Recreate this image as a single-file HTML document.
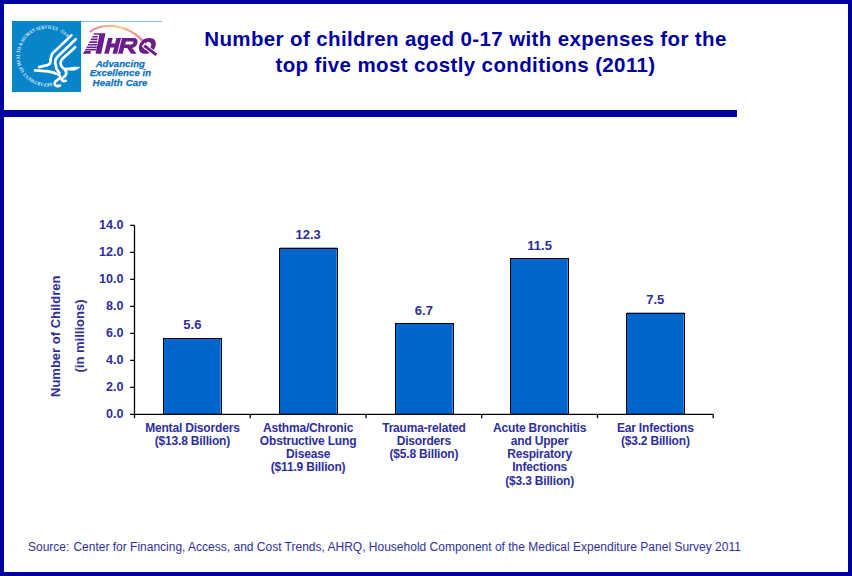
<!DOCTYPE html>
<html>
<head>
<meta charset="utf-8">
<style>
html,body{margin:0;padding:0;}
body{width:852px;height:576px;position:relative;overflow:hidden;background:#fff;font-family:"Liberation Sans",sans-serif;}
.frame{position:absolute;left:0;top:0;width:844px;height:568px;border:4px solid #0000A0;}
.bar{position:absolute;left:4px;top:110px;width:733px;height:7px;background:#0000A0;}
.title{position:absolute;left:165.5px;width:600px;top:26px;text-align:center;font-weight:bold;font-size:20.5px;letter-spacing:0.38px;line-height:26px;color:#0000A0;}
.src{position:absolute;left:28px;top:540px;font-size:12px;color:#30309C;white-space:pre;}
svg{position:absolute;left:0;top:0;}
</style>
</head>
<body>
<div class="frame"></div>
<div class="bar"></div>
<div class="title">Number of children aged 0-17 with expenses for the<br>top five most costly conditions (2011)</div>

<!-- logo -->
<svg width="852" height="576" viewBox="0 0 852 576">
  <defs>
    <linearGradient id="arc" gradientUnits="userSpaceOnUse" x1="89" y1="0" x2="147" y2="0">
      <stop offset="0" stop-color="#F07AB0"/>
      <stop offset="0.5" stop-color="#F8CC88"/>
      <stop offset="1" stop-color="#EE6E9A"/>
    </linearGradient>
  </defs>
  <rect x="12" y="21" width="69" height="71" fill="#0784CA"/>
  <rect x="81" y="21" width="81" height="1" fill="#7DBDE6"/>
  <g font-family="Liberation Serif" font-weight="bold" font-size="5.1" fill="#fff" fill-opacity="0.9" text-anchor="middle"><text transform="translate(50.57 82.85) rotate(172.2) scale(0.837 1)">D</text><text transform="translate(47.62 83.09) rotate(178.5) scale(0.837 1)">E</text><text transform="translate(44.89 83.03) rotate(184.2) scale(0.837 1)">P</text><text transform="translate(42.07 82.67) rotate(190.2) scale(0.837 1)">A</text><text transform="translate(39.08 81.95) rotate(196.7) scale(0.837 1)">R</text><text transform="translate(36.29 80.94) rotate(203.0) scale(0.837 1)">T</text><text transform="translate(33.22 79.41) rotate(210.2) scale(0.837 1)">M</text><text transform="translate(30.36 77.50) rotate(217.4) scale(0.837 1)">E</text><text transform="translate(28.11 75.57) rotate(223.7) scale(0.837 1)">N</text><text transform="translate(26.08 73.41) rotate(229.9) scale(0.837 1)">T</text><text transform="translate(23.67 70.04) rotate(238.7) scale(0.837 1)">O</text><text transform="translate(22.27 67.43) rotate(244.9) scale(0.837 1)">F</text><text transform="translate(20.83 63.67) rotate(253.4) scale(0.837 1)">H</text><text transform="translate(20.12 60.67) rotate(259.9) scale(0.837 1)">E</text><text transform="translate(19.76 57.73) rotate(266.1) scale(0.837 1)">A</text><text transform="translate(19.72 54.77) rotate(272.4) scale(0.837 1)">L</text><text transform="translate(19.99 51.93) rotate(278.4) scale(0.837 1)">T</text><text transform="translate(20.61 48.92) rotate(284.9) scale(0.837 1)">H</text><text transform="translate(22.12 44.68) rotate(294.4) scale(0.837 1)">&amp;</text><text transform="translate(24.31 40.75) rotate(303.9) scale(0.837 1)">H</text><text transform="translate(26.25 38.20) rotate(310.6) scale(0.837 1)">U</text><text transform="translate(28.73 35.66) rotate(318.1) scale(0.837 1)">M</text><text transform="translate(31.52 33.46) rotate(325.6) scale(0.837 1)">A</text><text transform="translate(34.16 31.87) rotate(332.1) scale(0.837 1)">N</text><text transform="translate(37.62 30.33) rotate(340.1) scale(0.837 1)">S</text><text transform="translate(40.11 29.56) rotate(345.6) scale(0.837 1)">E</text><text transform="translate(43.02 28.98) rotate(351.8) scale(0.837 1)">R</text><text transform="translate(46.09 28.71) rotate(358.3) scale(0.837 1)">V</text><text transform="translate(48.46 28.74) rotate(363.3) scale(0.837 1)">I</text><text transform="translate(50.82 28.98) rotate(368.3) scale(0.837 1)">C</text><text transform="translate(53.72 29.57) rotate(374.5) scale(0.837 1)">E</text><text transform="translate(56.21 30.34) rotate(380.0) scale(0.837 1)">S</text><text transform="translate(58.94 31.51) rotate(386.3) scale(0.837 1)">·</text><text transform="translate(61.82 33.16) rotate(393.3) scale(0.837 1)">U</text><text transform="translate(64.02 34.76) rotate(399.0) scale(0.837 1)">S</text><text transform="translate(66.05 36.58) rotate(404.8) scale(0.837 1)">A</text></g>
  <g fill="none" stroke="#fff" stroke-width="2.7" stroke-linecap="round" stroke-linejoin="round">
    <path d="M71.4 35.4C64 42.5 56 50 52.9 52.9C50.6 55.6 50.7 59 50.4 62.2C50.2 63.8 49.6 64.8 46.6 65.4C43.5 66 41 66.5 39.2 67.1"/>
    <path d="M75.7 39.3C69 46 61 53 57.8 56.3C55.3 59 54.8 62 55.6 64.5C56.4 66.5 55.8 67.5 56.6 69C57.3 70.5 58.5 71.5 59.6 73"/>
    <path d="M35 70.4C40 70.7 44 71 48 71.4C52 72 55.5 73 58.4 74.6C60.5 75.6 60.8 77 59.6 78.2C58.3 79.5 56.2 80.5 55 82.2C54 83.8 55 85.8 57.2 86.1C58.3 86.2 59.2 85.9 60 85.5"/>
    <path d="M75.1 47.2C70 52 65 56.5 62.4 58.8C60.6 60.8 60.2 63.5 61.2 65.8C62 67.5 63.8 68.5 65.2 70C66.5 71.5 66.6 74 65.2 75.8C64 77.3 62 78 61.8 79.6C61.8 81 63.5 81.3 65.8 80.8"/>
  </g>
  <path d="M62.4 68.2C66 67.6 70 67 73 66.9C76 66.8 78.5 66.9 80.2 67.2C78.8 68.6 76.5 70.1 74.3 70.5C71.5 70.7 68 70 64.5 70.4Z" fill="#fff"/>
  <path d="M89.5 32C100 24 125 20 146.5 44.5" fill="none" stroke="url(#arc)" stroke-width="2.2"/>
  <g fill="#6C1D8C"><polygon points="94.20,33.3 105.5,33.3 101.2,53.7 95.5,53.7 99.48,34.8 93.38,34.8"/><polygon points="92.77,35.90 97.90,35.90 97.74,37.60 91.83,37.60"/><polygon points="91.28,38.60 97.64,38.60 97.48,40.30 90.35,40.30"/><polygon points="89.80,41.30 97.39,41.30 97.23,43.00 88.86,43.00"/><polygon points="88.37,43.90 97.14,43.90 96.98,45.60 87.44,45.60"/><polygon points="86.94,46.50 96.90,46.50 96.66,48.20 86.00,48.20"/><polygon points="85.56,49.00 96.49,49.00 96.17,50.50 84.74,50.50"/><polygon points="84.41,51.1 90.9,51.1 90.5,53.7 82.98,53.7"/></g>
  <g fill="#6C1D8C" transform="matrix(1,0,-0.25,1,13.425,0)">
    <rect x="104.2" y="38.1" width="4.6" height="15.6"/>
    <rect x="112.5" y="38.1" width="4.6" height="15.6"/>
    <rect x="108" y="43.6" width="5" height="3.8"/>
    <rect x="118.1" y="38.1" width="4.6" height="15.6"/>
    <path fill-rule="evenodd" d="M122 38.1H129.6C133 38.1 134.7 40.3 134.7 42.9C134.7 45.6 133 47.9 129.6 47.9H122Z M122.6 41.5H128.7C130 41.5 130.6 42.1 130.6 42.95C130.6 43.8 130 44.4 128.7 44.4H122.6Z"/>
    <polygon points="125.1,47.3 129.9,47.3 136.6,53.7 131.1,53.7"/>
    <path fill-rule="evenodd" d="M145.4 38.1C150.8 38.1 153.6 41.6 153.6 45.9C153.6 50.2 150.8 53.7 145.4 53.7C140 53.7 137.2 50.2 137.2 45.9C137.2 41.6 140 38.1 145.4 38.1Z M145.4 42C143.2 42 141.7 43.6 141.7 45.9C141.7 48.2 143.2 49.8 145.4 49.8C147.6 49.8 149.1 48.2 149.1 45.9C149.1 43.6 147.6 42 145.4 42Z"/>
  </g>
  <path d="M143.2 44.6L155.6 54.6" stroke="#fff" stroke-width="4.6"/>
  <path d="M144.2 45.6L156.4 54.9" stroke="#6C1D8C" stroke-width="2.9" stroke-linecap="butt"/>
  <g font-family="Liberation Sans" font-weight="bold" font-style="italic" font-size="9.6" fill="#0A72C2" stroke="#0A72C2" stroke-width="0.25" text-anchor="middle">
    <text x="120.3" y="66.5" letter-spacing="0.02">Advancing</text>
    <text x="120.4" y="75.9" letter-spacing="0.05">Excellence in</text>
    <text x="120.1" y="85.6" letter-spacing="0.15">Health Care</text>
  </g>
</svg>

<!-- chart -->
<svg width="852" height="576" viewBox="0 0 852 576" font-family="Liberation Sans" font-weight="bold">
  <g fill="none" stroke="#0066CC" stroke-opacity="0.45" stroke-width="1">
    <path d="M280 247.5H337.5M627 312.5H684.5"/>
  </g>
  <g fill="#0066CC" stroke="#000" stroke-width="1">
    <rect x="163.5" y="338.5" width="58" height="75.9"/>
    <rect x="279.5" y="248.5" width="58" height="165.9"/>
    <rect x="395.5" y="323.5" width="58" height="90.9"/>
    <rect x="510.5" y="258.5" width="58" height="155.9"/>
    <rect x="626.5" y="313.5" width="58" height="100.9"/>
  </g>
  <g fill="none" stroke="#3F93EE" stroke-opacity="0.8" stroke-width="1">
    <path d="M220.5 339.5V413.5M336.5 249.5V413.5M452.5 324.5V413.5M567.5 259.5V413.5M683.5 314.5V413.5"/>
  </g>
  <g stroke="#000" stroke-width="1.3" fill="none">
    <path d="M134.5 225.4V418.2"/>
    <path d="M130.2 414.4H713.2"/>
    <path d="M130.2 225.4H134.5M130.2 252.4H134.5M130.2 279.4H134.5M130.2 306.4H134.5M130.2 333.4H134.5M130.2 360.4H134.5M130.2 387.4H134.5"/>
    <path d="M250.2 414.4V418.2M366 414.4V418.2M481.7 414.4V418.2M597.5 414.4V418.2M713.2 414.4V418.2"/>
  </g>
  <g fill="#2E2E9C" font-size="12.6" text-anchor="end">
    <text x="123.5" y="228.6">14.0</text>
    <text x="123.5" y="255.6">12.0</text>
    <text x="123.5" y="282.6">10.0</text>
    <text x="123.5" y="309.6">8.0</text>
    <text x="123.5" y="336.6">6.0</text>
    <text x="123.5" y="363.6">4.0</text>
    <text x="123.5" y="390.6">2.0</text>
    <text x="123.5" y="417.6">0.0</text>
  </g>
  <g fill="#2E2E9C" font-size="13" text-anchor="middle">
    <text x="192.4" y="329.3">5.6</text>
    <text x="308.1" y="239">12.3</text>
    <text x="423.9" y="315">6.7</text>
    <text x="539.6" y="250">11.5</text>
    <text x="655.3" y="304">7.5</text>
  </g>
  <g fill="#2E2E9C" font-size="12" letter-spacing="-0.18" text-anchor="middle">
    <text x="192.4" y="431.6">Mental Disorders</text>
    <text x="192.4" y="444.5">($13.8 Billion)</text>
    <text x="308.1" y="431.6">Asthma/Chronic</text>
    <text x="308.1" y="444.5">Obstructive Lung</text>
    <text x="308.1" y="458.2">Disease</text>
    <text x="308.1" y="471.4">($11.9 Billion)</text>
    <text x="423.9" y="431.6">Trauma-related</text>
    <text x="423.9" y="444.5">Disorders</text>
    <text x="423.9" y="458.2">($5.8 Billion)</text>
    <text x="539.6" y="431.6">Acute Bronchitis</text>
    <text x="539.6" y="444.5">and Upper</text>
    <text x="539.6" y="458.2">Respiratory</text>
    <text x="539.6" y="471.4">Infections</text>
    <text x="539.6" y="485.2">($3.3 Billion)</text>
    <text x="655.3" y="431.6">Ear Infections</text>
    <text x="655.3" y="444.5">($3.2 Billion)</text>
  </g>
  <g fill="#2E2E9C" font-size="13" text-anchor="middle">
    <text transform="translate(59.5 336.3) rotate(-90)">Number of Children</text>
    <text transform="translate(83.5 336) rotate(-90)">(in millions)</text>
  </g>
</svg>

<div class="src">Source:<span style="margin-left:0.7px"> </span>Center for Financing, Access, and Cost Trends, AHRQ, Household Component of the Medical Expenditure Panel Survey 2011</div>
</body>
</html>
